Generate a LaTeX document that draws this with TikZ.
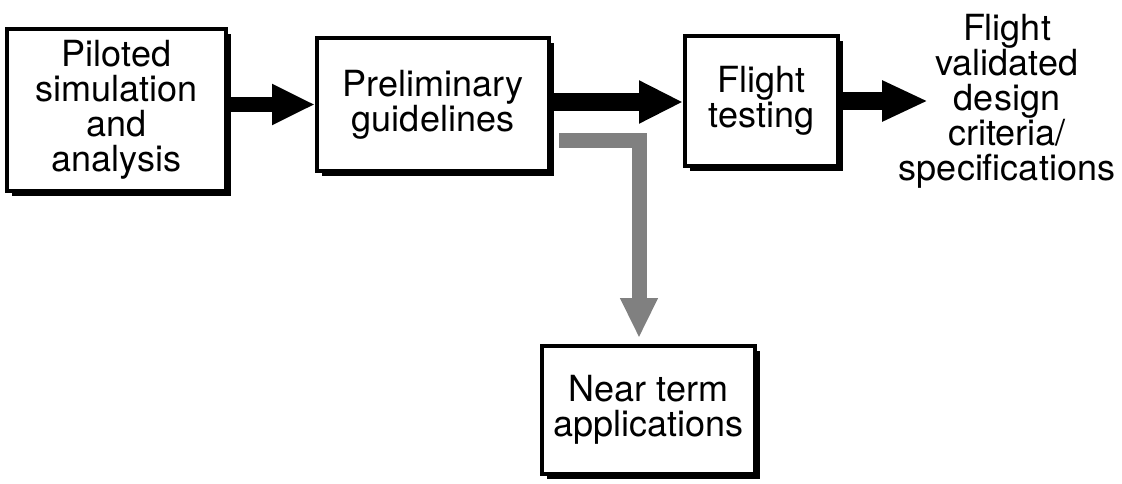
\documentclass[tikz,border=0pt]{standalone}
\usepackage{fontspec}
\setmainfont{TeX Gyre Heros}
\usetikzlibrary{arrows.meta,shadows}
\begin{document}
\begin{tikzpicture}[x=1pt,y=-1pt,
  txt/.style={align=center,inner sep=0pt,font=\fontsize{36}{35}\selectfont},
  box/.style={txt,draw=black,line width=4pt,fill=white,
    drop shadow={shadow xshift=5pt,shadow yshift=-5pt,fill=black,opacity=1}},
  flowa/.style={line width=15pt,-{Triangle[length=43pt,width=38pt]}},
  flowb/.style={line width=18pt,-{Triangle[length=44pt,width=40pt]}},
  flowc/.style={line width=18pt,-{Triangle[length=46pt,width=38pt]}},
  gflow/.style={draw=black!50,line width=15pt,line join=miter,
    -{Triangle[length=40pt,width=35pt]}}
]
\useasboundingbox (0,0) rectangle (1122,483);
\node[box,minimum width=219pt,minimum height=162pt] (b1) at (116.5,109.5)
  {Piloted\\simulation\\and\\analysis};
\node[box,minimum width=232pt,minimum height=133pt] (b2) at (433,104.5)
  {Preliminary\\guidelines};
\node[box,minimum width=153pt,minimum height=130pt] (b3) at (761.5,101)
  {Flight\\testing};
\node[box,minimum width=213pt,minimum height=128pt] (b4) at (648.5,410)
  {Near term\\applications};
\node[txt] (out) at (1007,101)
  {Flight\\validated\\design\\criteria/\\specifications};
\coordinate (otip) at (928,101);
\coordinate (gtip) at (639,338);
\draw[flowa] ([yshift=5pt]b1.east) -- ([yshift=5pt]b1.east -| b2.west);
\draw[flowb] ([yshift=2.5pt]b2.east) -- ([yshift=2.5pt]b2.east -| b3.west);
\draw[flowc] (b3.east) -- (otip);
\draw[gflow] ([shift={(8pt,-35.5pt)}]b2.east) -| (gtip);
\end{tikzpicture}
\end{document}
